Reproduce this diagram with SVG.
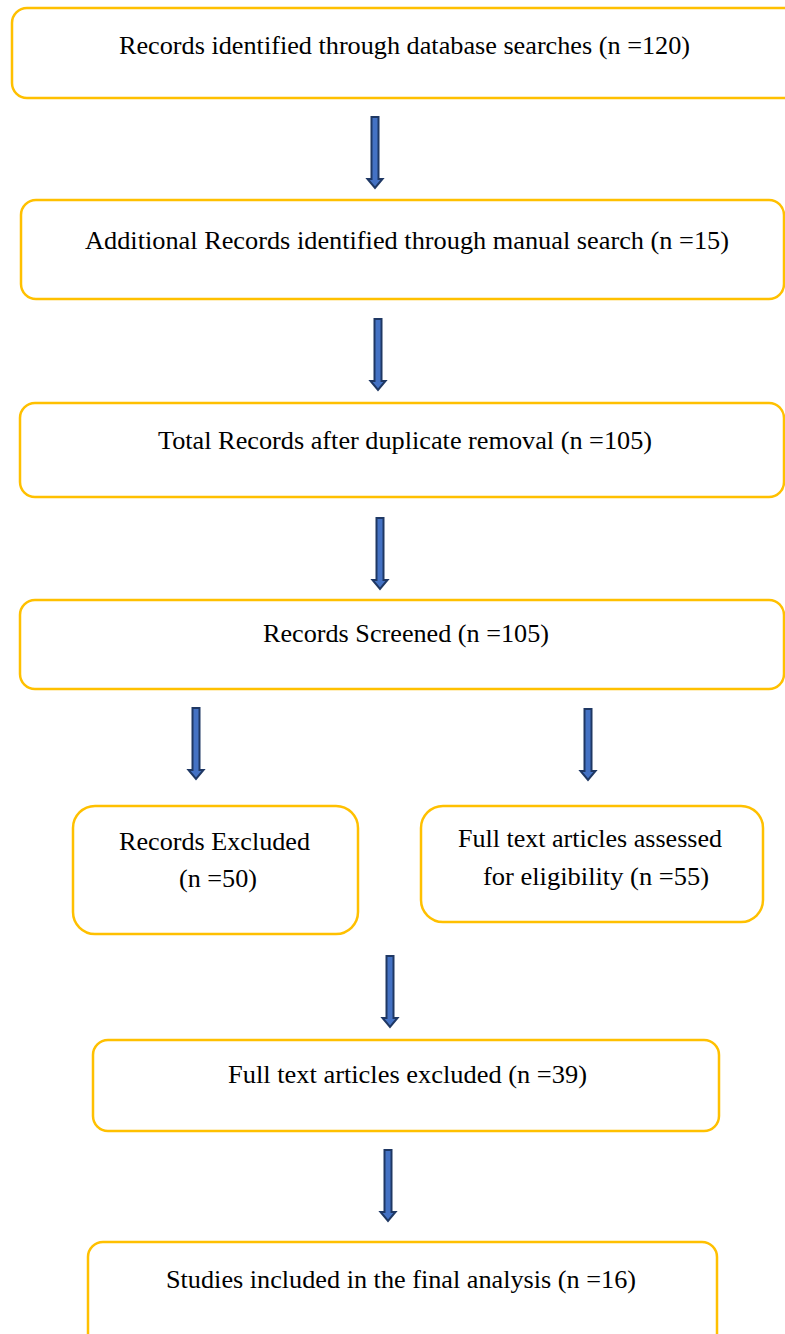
<svg xmlns="http://www.w3.org/2000/svg" width="785" height="1334" viewBox="0 0 785 1334">
<defs>
<style>
.box{fill:#fff;stroke:#FFC000;stroke-width:2.5}
.t{font-family:"Liberation Serif","Times New Roman",serif;font-size:26px;fill:#000;text-anchor:middle}
.arr{fill:#4472C4;stroke:#1F3864;stroke-width:2;stroke-linejoin:miter}
</style>
<path id="ar" d="M-3.5,0 H3.5 V62 H7.5 L0,71 L-7.5,62 H-3.5 Z"/>
</defs>
<rect width="785" height="1334" fill="#fff"/>
<g id="connectors">
<use href="#ar" class="arr" x="375" y="117"/>
<use href="#ar" class="arr" x="378" y="319"/>
<use href="#ar" class="arr" x="380" y="518"/>
<use href="#ar" class="arr" x="196" y="708"/>
<use href="#ar" class="arr" x="588" y="709"/>
<use href="#ar" class="arr" x="390" y="956"/>
<use href="#ar" class="arr" x="388" y="1150"/>
</g>
<g id="n1"><rect class="box" x="12" y="8" width="800" height="90" rx="15"/><text class="t" x="404.5" y="54" textLength="571" lengthAdjust="spacingAndGlyphs">Records identified through database searches (n =120)</text></g>
<g id="n2"><rect class="box" x="21" y="200" width="763" height="99" rx="15"/><text class="t" x="407" y="249" textLength="644" lengthAdjust="spacingAndGlyphs">Additional Records identified through manual search (n =15)</text></g>
<g id="n3"><rect class="box" x="20" y="403" width="764" height="94" rx="15"/><text class="t" x="405" y="449" textLength="494" lengthAdjust="spacingAndGlyphs">Total Records after duplicate removal (n =105)</text></g>
<g id="n4"><rect class="box" x="20" y="600" width="764" height="89" rx="15"/><text class="t" x="406" y="642" textLength="286" lengthAdjust="spacingAndGlyphs">Records Screened (n =105)</text></g>
<g id="n5"><rect class="box" x="73" y="806" width="285" height="128" rx="22"/><text class="t" x="214.5" y="850" textLength="191" lengthAdjust="spacingAndGlyphs">Records Excluded</text><text class="t" x="218" y="887" textLength="78" lengthAdjust="spacingAndGlyphs">(n =50)</text></g>
<g id="n6"><rect class="box" x="421" y="806" width="342" height="116" rx="22"/><text class="t" x="590" y="847" textLength="264" lengthAdjust="spacingAndGlyphs">Full text articles assessed</text><text class="t" x="596" y="885" textLength="226" lengthAdjust="spacingAndGlyphs">for eligibility (n =55)</text></g>
<g id="n7"><rect class="box" x="93" y="1040" width="626" height="91" rx="15"/><text class="t" x="407.5" y="1083" textLength="359" lengthAdjust="spacingAndGlyphs">Full text articles excluded (n =39)</text></g>
<g id="n8"><rect class="box" x="88" y="1242" width="629" height="110" rx="15"/><text class="t" x="401" y="1288" textLength="470" lengthAdjust="spacingAndGlyphs">Studies included in the final analysis (n =16)</text></g>
</svg>
